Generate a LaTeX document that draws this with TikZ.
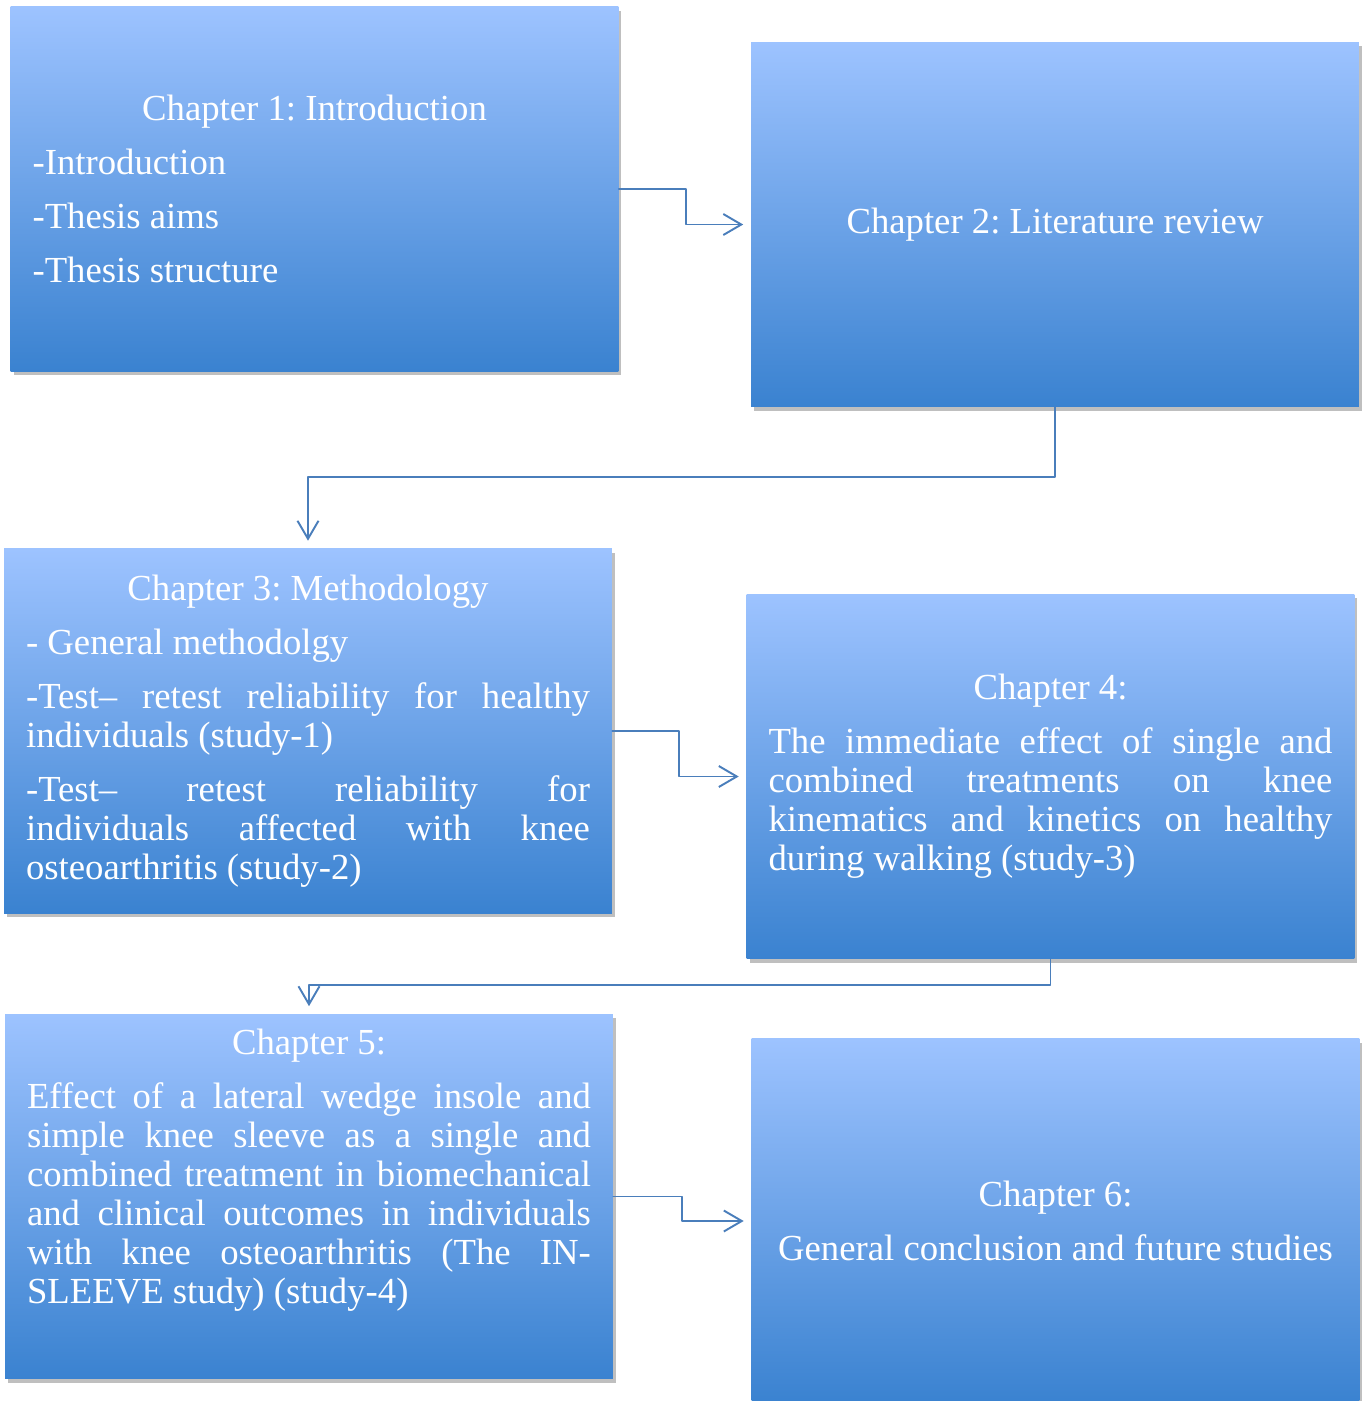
\documentclass[tikz,border=0pt]{standalone}
\usepackage{fontspec}
\setmainfont{Liberation Serif}
\usetikzlibrary{arrows.meta,shadows}
\definecolor{chtop}{RGB}{157,195,255}
\definecolor{chbot}{RGB}{58,130,208}
\definecolor{linkblue}{RGB}{74,126,187}

\begin{document}
\begin{tikzpicture}[line cap=round,line join=round,>={Straight Barb[length=0.36cm,width=0.42cm]},x=0.02cm,y=-0.02cm,
	chapter/.style={rectangle,minimum width=12.16cm,minimum height=7.3cm,inner xsep=0.44cm,inner ysep=0pt,text width=11.28cm,align=justify,
		top color=chtop,bottom color=chbot,text=white,font=\fontsize{20.9}{22.2}\selectfont,
		execute at begin node={\setlength{\parskip}{8.5pt}\setlength{\parindent}{0pt}\frenchspacing\tolerance=10000 \hyphenpenalty=10000 },
		drop shadow={shadow xshift=0.06cm,shadow yshift=-0.08cm,fill=black,opacity=0.25}},
	link/.style={->,draw=linkblue,line width=1.1pt,shorten >=0.15cm}]
			\clip(0,0) rectangle (1362,1401);
			% boxes
			\node[chapter] (ch1) at (314.5,189) {{\centering Chapter 1: Introduction\par}
				-Introduction\par
				-Thesis aims\par
				-Thesis structure};
			\node[chapter] (ch2) at (1055,224.5) {{\centering Chapter 2: Literature review\par}};
			\node[chapter] (ch3) at (308,731) {{\centering Chapter 3: Methodology\par}
				- General methodolgy\par
				-Test– retest reliability for healthy\linebreak individuals (study-1)\par
				-Test– retest reliability for\linebreak individuals affected with knee\linebreak osteoarthritis (study-2)};
			\node[chapter] (ch4) at (1050.5,776.5) {{\centering Chapter 4:\par}
				The immediate effect of single and\linebreak combined treatments on knee\linebreak kinematics and kinetics on healthy\linebreak during walking (study-3)};
			\node[chapter] (ch5) at (309,1196.5) {{\centering Chapter 5:\par}
				Effect of a lateral wedge insole and\linebreak simple knee sleeve as a single and\linebreak combined treatment in biomechanical\linebreak and clinical outcomes in individuals\linebreak with knee osteoarthritis (The IN-\linebreak SLEEVE study) (study-4)\par\kern1.04cm};
			\node[chapter] (ch6) at (1055.5,1221) {{\centering Chapter 6:\par
				General conclusion and future studies\par}};
			% connectors
			\draw[link] (ch1.east) -- ++(67,0) |- (ch2.west);
			\draw[link] (ch2.south) -- ++(0,70) -| (ch3.north);
			\draw[link] (ch3.east) -- ++(67,0) |- (ch4.west);
			\draw[link] (ch4.south) -- ++(0,26) -| (ch5.north);
			\draw[link] (ch5.east) -- ++(69,0) |- (ch6.west);
		\end{tikzpicture}
\end{document}
